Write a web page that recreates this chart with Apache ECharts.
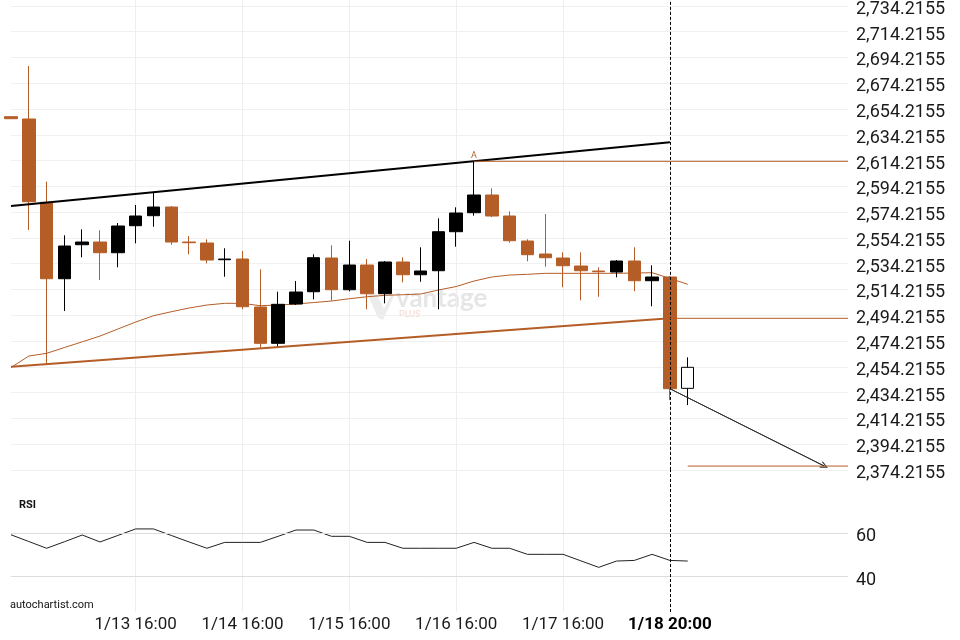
<!DOCTYPE html>
<html><head><meta charset="utf-8">
<script src="https://cdn.jsdelivr.net/npm/echarts@6/dist/echarts.min.js"></script>
<style>html,body{margin:0;padding:0;background:#fff}#c{width:960px;height:640px}</style>
</head><body><div id="c"></div>
<script>
// ---------- data ----------
const categories = [
  '1/12 12:00','1/12 16:00','1/12 20:00','1/13 00:00','1/13 04:00','1/13 08:00','1/13 12:00','1/13 16:00',
  '1/13 20:00','1/14 00:00','1/14 04:00','1/14 08:00','1/14 12:00','1/14 16:00','1/14 20:00','1/15 00:00',
  '1/15 04:00','1/15 08:00','1/15 12:00','1/15 16:00','1/15 20:00','1/16 00:00','1/16 04:00','1/16 08:00',
  '1/16 12:00','1/16 16:00','1/16 20:00','1/17 00:00','1/17 04:00','1/17 08:00','1/17 12:00','1/17 16:00',
  '1/17 20:00','1/18 00:00','1/18 04:00','1/18 08:00','1/18 16:00','1/18 20:00','1/19 00:00','1/19 04:00',
  '1/19 08:00','1/19 12:00','1/19 16:00','1/19 20:00','1/20 00:00','1/20 04:00','1/20 08:00','1/20 12:00'
];
const tickLabels = ['1/13 16:00','1/14 16:00','1/15 16:00','1/16 16:00','1/17 16:00','1/18 20:00'];
const currentBar = '1/18 20:00';
const priceTickBase = 2374.2155;
const priceTickStep = 20;

const opens  = [2648.25,2646.47,2581.83,2522.54,2548.93,2551.02,2542.72,2563.67,2571.43,2578.18,2551.02,2550.25,2537.29,2537.83,2500.59,2472.42,2502.91,2512.46,2538.61,2514.01,2533.18,2510.91,2535.51,2525.65,2528.75,2559.02,2573.76,2587.50,2571.20,2551.80,2541.71,2538.61,2532.40,2528.52,2527.74,2536.28,2521.00,2523.87,2437.50];
const closes = [2646.70,2582.30,2522.54,2547.92,2551.02,2542.72,2563.44,2571.20,2578.18,2551.02,2550.48,2537.06,2537.83,2500.82,2472.42,2502.68,2512.22,2538.84,2514.01,2533.18,2510.91,2535.51,2525.65,2528.52,2559.02,2573.53,2587.50,2571.20,2552.03,2541.17,2538.84,2532.63,2528.75,2527.98,2536.28,2521.00,2523.87,2437.19,2453.80];
const lows   = [2646.70,2560.33,2456.35,2497.48,2539.15,2521.54,2531.39,2550.01,2562.89,2548.93,2541.48,2534.49,2524.10,2498.80,2468.77,2469.78,2502.14,2506.56,2505.47,2512.77,2498.80,2503.46,2519.75,2520.21,2498.80,2547.37,2571.43,2570.42,2550.48,2536.04,2531.86,2515.88,2505.78,2508.57,2523.63,2512.77,2501.13,2428.42,2424.54];
const highs  = [2648.25,2687.60,2597.81,2556.22,2560.88,2560.10,2565.77,2579.73,2589.28,2578.96,2555.68,2553.11,2546.14,2544.04,2529.84,2512.46,2520.76,2541.48,2548.46,2552.03,2537.83,2536.28,2539.15,2546.91,2569.41,2577.95,2613.65,2592.69,2574.84,2553.11,2572.75,2543.03,2543.03,2531.39,2537.06,2546.91,2532.94,2524.64,2461.56];
const movingAverage = [2453.64,2462.56,2464.66,2469.16,2473.58,2478.08,2483.51,2488.94,2493.83,2496.93,2499.81,2502.13,2503.45,2503.45,2501.59,2502.13,2502.91,2504.08,2505.24,2507.02,2508.58,2509.66,2510.13,2510.67,2513.78,2516.49,2520.76,2523.87,2525.41,2525.96,2526.73,2526.73,2526.73,2526.73,2526.73,2526.97,2527.20,2522.85,2518.20];
const rsiValues = [59.3,56.2,53.1,56.1,59.2,56.0,59.0,62.0,62.0,59.0,56.0,53.1,55.8,55.8,55.8,58.6,61.5,61.5,58.6,58.6,55.8,55.8,53.1,53.1,53.1,53.1,55.8,53.1,53.1,50.3,50.3,50.3,47.3,44.3,47.2,47.5,50.3,47.5,47.2];
const rsiTicks = [40, 60];

const resistanceLine = [[0, 2578.96], [37, 2628.39]];
const supportLine    = [[0, 2454.26], [37, 2491.82]];
const supportLevel   = [[37, 2491.82], [47, 2491.82]];
const pointALevel    = [[26, 2613.65], [47, 2613.65]];
const targetLevel    = [[38, 2377.20], [47, 2377.20]];
const forecastPath   = [[37, 2437.19], [45.67, 2377.20]];

// ---------- chart ----------
const ORANGE = '#b55d27';
const FONT = 'Roboto';
const chart = echarts.init(document.getElementById('c'), null, {renderer: 'canvas'});

const candleData = opens.map((o, i) => {
  const item = {value: [o, closes[i], lows[i], highs[i]]};
  if (i === opens.length - 1) item.itemStyle = {color: '#ffffff', borderColor: '#000000', borderWidth: 1};
  return item;
});
const showTick = (idx, val) => tickLabels.includes(val);
const fmtPrice = v => {
  const snapped = priceTickBase + Math.round((v - priceTickBase) / priceTickStep) * priceTickStep;
  return snapped.toLocaleString('en-US', {minimumFractionDigits: 4, maximumFractionDigits: 4});
};
const labelRich = {a: {fontSize: 18, color: '#1a1a1a', fontFamily: FONT, padding: [7, 0, 0, 0]}};

function overlay(data, color, width, extra) {
  return Object.assign({
    type: 'line', xAxisIndex: 2, yAxisIndex: 0, data: data, showSymbol: false, symbol: 'none',
    lineStyle: {color: color, width: width}, silent: true, z: 5
  }, extra || {});
}

const option = {
  animation: false,
  backgroundColor: '#ffffff',
  textStyle: {fontFamily: FONT},
  grid: [
    {left: 11, right: 112, top: -19.87, height: 489.77, outerBoundsMode: 'none'},
    {left: 11, right: 112, top: 469.9, height: 142.1, outerBoundsMode: 'none'}
  ],
  xAxis: [
    {type: 'category', gridIndex: 0, data: categories, boundaryGap: false,
     axisLine: {show: false}, axisTick: {show: false}, axisLabel: {show: false},
     splitLine: {show: true, interval: showTick, lineStyle: {color: '#eeeeee', width: 1}}},
    {type: 'category', gridIndex: 1, data: categories, boundaryGap: false,
     axisLine: {show: false}, axisTick: {show: false},
     axisLabel: {interval: showTick, margin: 4, fontSize: 17, color: '#1a1a1a', fontFamily: FONT,
       formatter: v => v === currentBar ? '{b|' + v + '}' : v,
       rich: {b: {fontSize: 17, fontWeight: 'bold', color: '#000', fontFamily: FONT}}},
     splitLine: {show: true, interval: showTick, lineStyle: {color: '#eeeeee', width: 1}}},
    {type: 'value', gridIndex: 0, min: 0, max: 47, show: false}
  ],
  yAxis: [
    {type: 'value', gridIndex: 0, position: 'right', min: 2374.2155, max: 2754.2155, interval: priceTickStep,
     axisLine: {show: false}, axisTick: {show: false},
     axisLabel: {showMaxLabel: false, showMinLabel: true, margin: 8, fontSize: 18, color: '#1a1a1a',
       fontFamily: FONT, formatter: v => '{a|' + fmtPrice(v) + '}', rich: labelRich},
     splitLine: {lineStyle: {color: '#f0f0f0', width: 1}}},
    {type: 'value', gridIndex: 1, position: 'right', min: 23.73, max: 89.2,
     axisLine: {show: false}, axisTick: {show: false},
     axisLabel: {customValues: rsiTicks, margin: 8, fontSize: 18, color: '#1a1a1a', fontFamily: FONT,
       formatter: v => '{a|' + v + '}', rich: labelRich},
     splitLine: {show: false}}
  ],
  series: [
    {type: 'line', name: 'MA', xAxisIndex: 0, yAxisIndex: 0, data: movingAverage, showSymbol: false,
     symbol: 'none', lineStyle: {color: ORANGE, width: 1}, silent: true, z: 2},
    {type: 'candlestick', xAxisIndex: 0, yAxisIndex: 0, data: candleData, barWidth: 13, z: 3,
     itemStyle: {color: '#000000', color0: ORANGE, borderColor: '#000000', borderColor0: ORANGE, borderWidth: 1},
     markLine: {silent: true, symbol: ['none', 'none'], label: {show: false},
       lineStyle: {color: '#000', type: [3, 2], width: 1},
       data: [{xAxis: currentBar}]}},
    overlay(resistanceLine, '#000000', 2),
    overlay(supportLine, ORANGE, 2),
    overlay(supportLevel, ORANGE, 1),
    overlay(pointALevel, ORANGE, 1, {
      markPoint: {silent: true, symbol: 'circle', symbolSize: 1, itemStyle: {color: 'transparent'},
        label: {show: true, position: 'top', distance: 1, formatter: 'A', color: ORANGE, fontSize: 9, fontFamily: FONT},
        data: [{coord: pointALevel[0]}]}
    }),
    overlay(targetLevel, ORANGE, 1),
    overlay(forecastPath, '#333333', 1, {
      markLine: {silent: true, symbol: ['none', 'path://M0,9 L5,0 L10,9 L8.6,9.8 L5,2.8 L1.4,9.8 Z'],
        symbolSize: [7, 8], label: {show: false}, lineStyle: {color: '#333333', width: 1, type: 'solid'},
        data: [[{coord: forecastPath[0]}, {coord: forecastPath[1]}]]}
    }),
    {type: 'line', name: 'RSI', xAxisIndex: 1, yAxisIndex: 1, data: rsiValues, showSymbol: false,
     symbol: 'none', lineStyle: {color: '#222222', width: 1}, silent: true, z: 3,
     markLine: {silent: true, symbol: ['none', 'none'], label: {show: false},
       data: [
         {yAxis: rsiTicks[0], lineStyle: {color: '#dddddd', width: 1, type: 'solid'}},
         {yAxis: rsiTicks[1], lineStyle: {color: '#dddddd', width: 1, type: 'solid'}},
         {xAxis: currentBar, lineStyle: {color: '#000', width: 1, type: [3, 2]}}
       ]}}
  ],
  graphic: [
    {type: 'text', left: 19, top: 500, silent: true,
     style: {text: 'RSI', fontSize: 11, fontWeight: 'bold', fill: '#111', fontFamily: FONT}},
    {type: 'text', left: 10, top: 600, silent: true,
     style: {text: 'autochartist.com', fontSize: 11, fill: '#111', fontFamily: FONT}},
    {type: 'polygon', silent: true, z: 0,
     shape: {points: [[367, 293], [376, 293], [384, 309], [392, 293], [394, 296], [383, 320], [378, 318]]},
     style: {fill: '#ececec'}},
    {type: 'text', left: 396, top: 286, silent: true, z: 0,
     style: {text: 'vantage', fontSize: 26, fontWeight: 'bold', fill: '#e6e6e6', fontFamily: 'Lato'}},
    {type: 'text', left: 399, top: 310, silent: true, z: 0,
     style: {text: 'PLUS', fontSize: 9, fill: '#f2d9cb', fontFamily: FONT}}
  ]
};
chart.setOption(option);
</script></body></html>
